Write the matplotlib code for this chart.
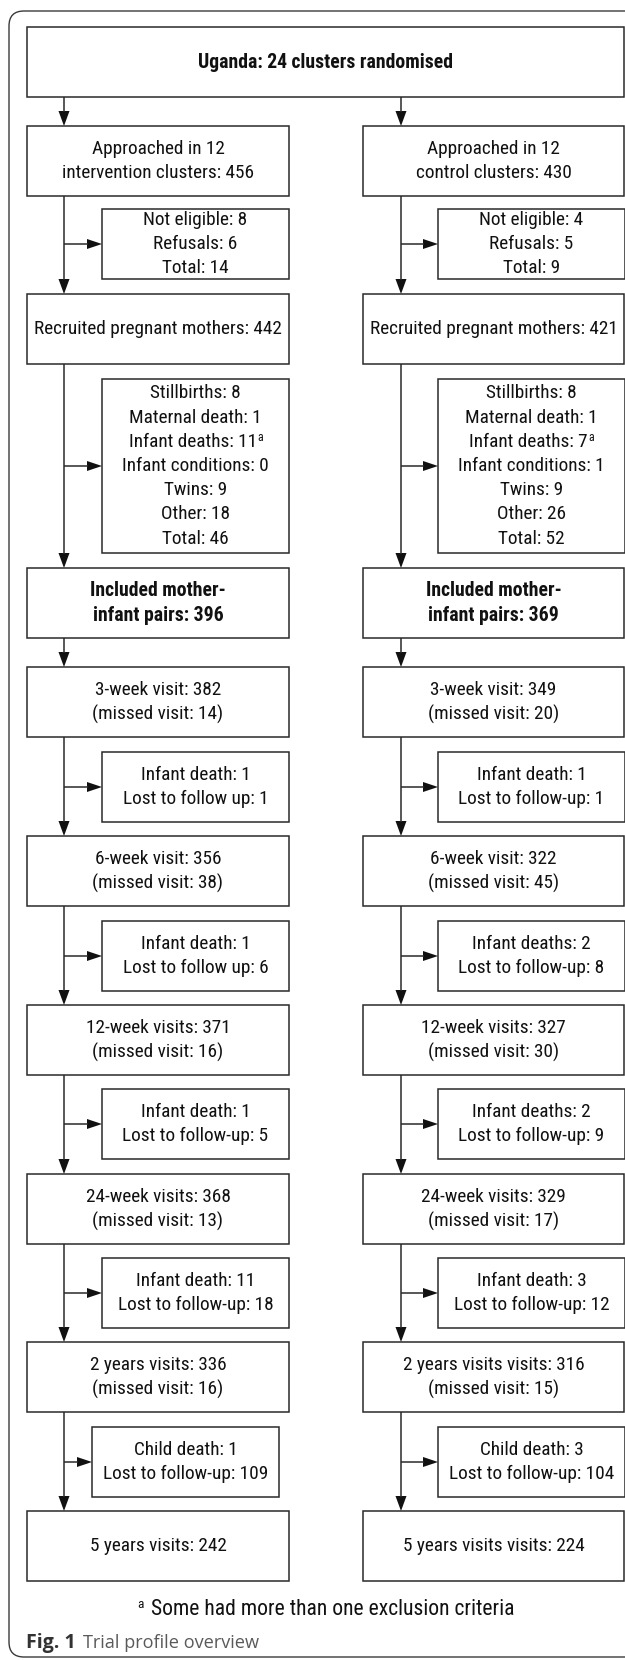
import matplotlib
matplotlib.use("Agg")
import matplotlib.pyplot as plt
from matplotlib.patches import Rectangle, FancyBboxPatch, Polygon
from matplotlib import font_manager
from matplotlib.font_manager import FontProperties

# ---------------- data ----------------
title_text = "Uganda: 24 clusters randomised"

left_main = [
    "Approached in 12\nintervention clusters: 456",
    "Recruited pregnant mothers: 442",
    "Included mother-\ninfant pairs: 396",
    "3-week visit: 382\n(missed visit: 14)",
    "6-week visit: 356\n(missed visit: 38)",
    "12-week visits: 371\n(missed visit: 16)",
    "24-week visits: 368\n(missed visit: 13)",
    "2 years visits: 336\n(missed visit: 16)",
    "5 years visits: 242",
]
right_main = [
    "Approached in 12\ncontrol clusters: 430",
    "Recruited pregnant mothers: 421",
    "Included mother-\ninfant pairs: 369",
    "3-week visit: 349\n(missed visit: 20)",
    "6-week visit: 322\n(missed visit: 45)",
    "12-week visits: 327\n(missed visit: 30)",
    "24-week visits: 329\n(missed visit: 17)",
    "2 years visits visits: 316\n(missed visit: 15)",
    "5 years visits visits: 224",
]
bold_main = [False, False, True, False, False, False, False, False, False]

left_side = [
    "Not eligible: 8\nRefusals: 6\nTotal: 14",
    "Stillbirths: 8\nMaternal death: 1\nInfant deaths: 11\u1d43\nInfant conditions: 0\nTwins: 9\nOther: 18\nTotal: 46",
    None,
    "Infant death: 1\nLost to follow up: 1",
    "Infant death: 1\nLost to follow up: 6",
    "Infant death: 1\nLost to follow-up: 5",
    "Infant death: 11\nLost to follow-up: 18",
    "Child death: 1\nLost to follow-up: 109",
]
right_side = [
    "Not eligible: 4\nRefusals: 5\nTotal: 9",
    "Stillbirths: 8\nMaternal death: 1\nInfant deaths: 7\u1d43\nInfant conditions: 1\nTwins: 9\nOther: 26\nTotal: 52",
    None,
    "Infant death: 1\nLost to follow-up: 1",
    "Infant deaths: 2\nLost to follow-up: 8",
    "Infant deaths: 2\nLost to follow-up: 9",
    "Infant death: 3\nLost to follow-up: 12",
    "Child death: 3\nLost to follow-up: 104",
]
footnote = "\u1d43 Some had more than one exclusion criteria"
caption_bold = "Fig. 1"
caption_rest = "Trial profile overview"

# ---------------- fonts ----------------
def pick_font():
    cands = []
    for f in font_manager.fontManager.ttflist:
        st = f.stretch
        if isinstance(st, str):
            st = font_manager.stretch_dict.get(st, 500)
        cands.append((f.name, st))
    for p in ["Liberation Sans Narrow", "Arial Narrow", "Roboto Condensed"]:
        for nm, st in cands:
            if nm == p:
                return nm, st
    for nm, st in cands:
        if ("Narrow" in nm or "Condensed" in nm) and "Sans" in nm:
            return nm, st
    for p in ["Roboto", "Liberation Sans", "Noto Sans", "Open Sans"]:
        for nm, st in cands:
            if nm == p and st < 500:
                return nm, st
    return "Liberation Sans", 500


FNAME, FSTRETCH = pick_font()

W, H = 625, 1660
fig = plt.figure(figsize=(W / 100, H / 100), dpi=100)
ax = fig.add_axes([0, 0, 1, 1])
ax.set_xlim(0, W)
ax.set_ylim(H, 0)
ax.axis("off")
renderer = fig.canvas.get_renderer()


def fp(size, bold=False):
    return FontProperties(family=FNAME, stretch=FSTRETCH, size=size,
                          weight="bold" if bold else "normal")


def text_width(s, prop):
    t = ax.text(0, 0, s, fontproperties=prop)
    w = t.get_window_extent(renderer=renderer).width
    t.remove()
    return w


# font sizes fitted to the widths measured on the reference
FS = 13.8 * 248.0 / text_width("Recruited pregnant mothers: 442", fp(13.8))
FSB = 13.8 * 255.0 / text_width(title_text, fp(13.8, True))

LINE = 24.2
EC = "#2a2a2a"
TC = "#111111"
LW = 1.1
SUP = "\u1d43"

# outer rounded frame
frame = FancyBboxPatch((9, 11), 700, 1646, boxstyle="round,pad=0,rounding_size=15",
                       fill=False, ec="#3a3a3a", lw=1.0)
ax.add_patch(frame)


def put_line(cx, y, s, bold=False):
    prop = fp(FSB if bold else FS, bold)
    if SUP in s:
        s = s.replace(SUP, "")
        sprop = fp(FS * 0.62)
        sw = text_width("a", sprop)
        mw = text_width(s, prop)
        left = cx - (mw + sw) / 2
        ax.text(left, y, s, ha="left", va="center", fontproperties=prop, color=TC)
        ax.text(left + mw + 0.5, y - 4.5, "a", ha="left", va="center",
                fontproperties=sprop, color=TC)
    else:
        ax.text(cx, y, s, ha="center", va="center", fontproperties=prop, color=TC)


def lines(cx, cy, text, bold=False):
    parts = text.split("\n")
    n = len(parts)
    for i, p in enumerate(parts):
        put_line(cx, cy + (i - (n - 1) / 2) * LINE, p, bold)


def box(x0, y0, x1, y1):
    ax.add_patch(Rectangle((x0, y0), x1 - x0, y1 - y0, fill=False, ec=EC, lw=LW))


def varrow(x, y0, y1):
    ax.plot([x, x], [y0, y1 - 14], color=EC, lw=LW, solid_capstyle="butt")
    ax.add_patch(Polygon([[x - 5.5, y1 - 15], [x + 5.5, y1 - 15], [x, y1]],
                         closed=True, fc="#111111", ec="none"))


def harrow(x0, x1, y):
    ax.plot([x0, x1 - 14], [y, y], color=EC, lw=LW, solid_capstyle="butt")
    ax.add_patch(Polygon([[x1 - 15, y - 5], [x1 - 15, y + 5], [x1, y]],
                         closed=True, fc="#111111", ec="none"))


# title box
TOP = (27, 27, 624, 97)
box(*TOP)
lines((TOP[0] + TOP[2]) / 2, 62, title_text, bold=True)

main_tops = [126, 294, 568, 667, 836, 1005, 1174, 1342, 1511]
main_h = 70
side_tops = [209, 379, None, 752, 921, 1089, 1258, 1427]
side_h = [70, 174, None, 70, 70, 70, 70, 70]

cols = [
    dict(x0=27, x1=289, ax_x=64, sx0=[102] * 7 + [92], sx1=[289] * 7 + [279],
         main=left_main, side=left_side),
    dict(x0=363, x1=624, ax_x=401, sx0=[438] * 8, sx1=[625] * 8,
         main=right_main, side=right_side),
]

for c in cols:
    ax_x = c["ax_x"]
    varrow(ax_x, TOP[3], main_tops[0])
    for i, txt in enumerate(c["main"]):
        y0 = main_tops[i]
        y1 = y0 + main_h
        box(c["x0"], y0, c["x1"], y1)
        lines((c["x0"] + c["x1"]) / 2, (y0 + y1) / 2, txt, bold=bold_main[i])
        if i < len(c["main"]) - 1:
            varrow(ax_x, y1, main_tops[i + 1])
            st = c["side"][i]
            if st is not None:
                sy0 = side_tops[i]
                sy1 = sy0 + side_h[i]
                sx0, sx1 = c["sx0"][i], c["sx1"][i]
                box(sx0, sy0, sx1, sy1)
                lines((sx0 + sx1) / 2, (sy0 + sy1) / 2, st)
                harrow(ax_x, sx0, (sy0 + sy1) / 2)

# footnote (superscript a before the text), spanning about x=138..513
fn_body = footnote.replace(SUP, "").strip()
FSF = FS * 362.0 / text_width(fn_body, fp(FS))
fprop = fp(FSF)
sprop = fp(FSF * 0.62)
ax.text(137, 1604, "a", ha="left", va="center", fontproperties=sprop, color=TC)
ax.text(151, 1609, fn_body, ha="left", va="center", fontproperties=fprop, color=TC)

# caption: "Fig. 1" 26..76, rest 83..260
cap_fam = ["Open Sans", "DejaVu Sans"]
p1 = FontProperties(family=cap_fam, size=14, weight="bold")
p2 = FontProperties(family=cap_fam, size=14, weight="normal")
s1 = 14 * 50.0 / text_width(caption_bold, p1)
s2 = 14 * 177.0 / text_width(caption_rest, p2)
ax.text(26, 1643, caption_bold, ha="left", va="center", color="#333333",
        fontproperties=FontProperties(family=cap_fam, size=s1, weight="bold"))
ax.text(83, 1643, caption_rest, ha="left", va="center", color="#5a5a5a",
        fontproperties=FontProperties(family=cap_fam, size=s2, weight="normal"))

fig.savefig("out.png", dpi=100)
